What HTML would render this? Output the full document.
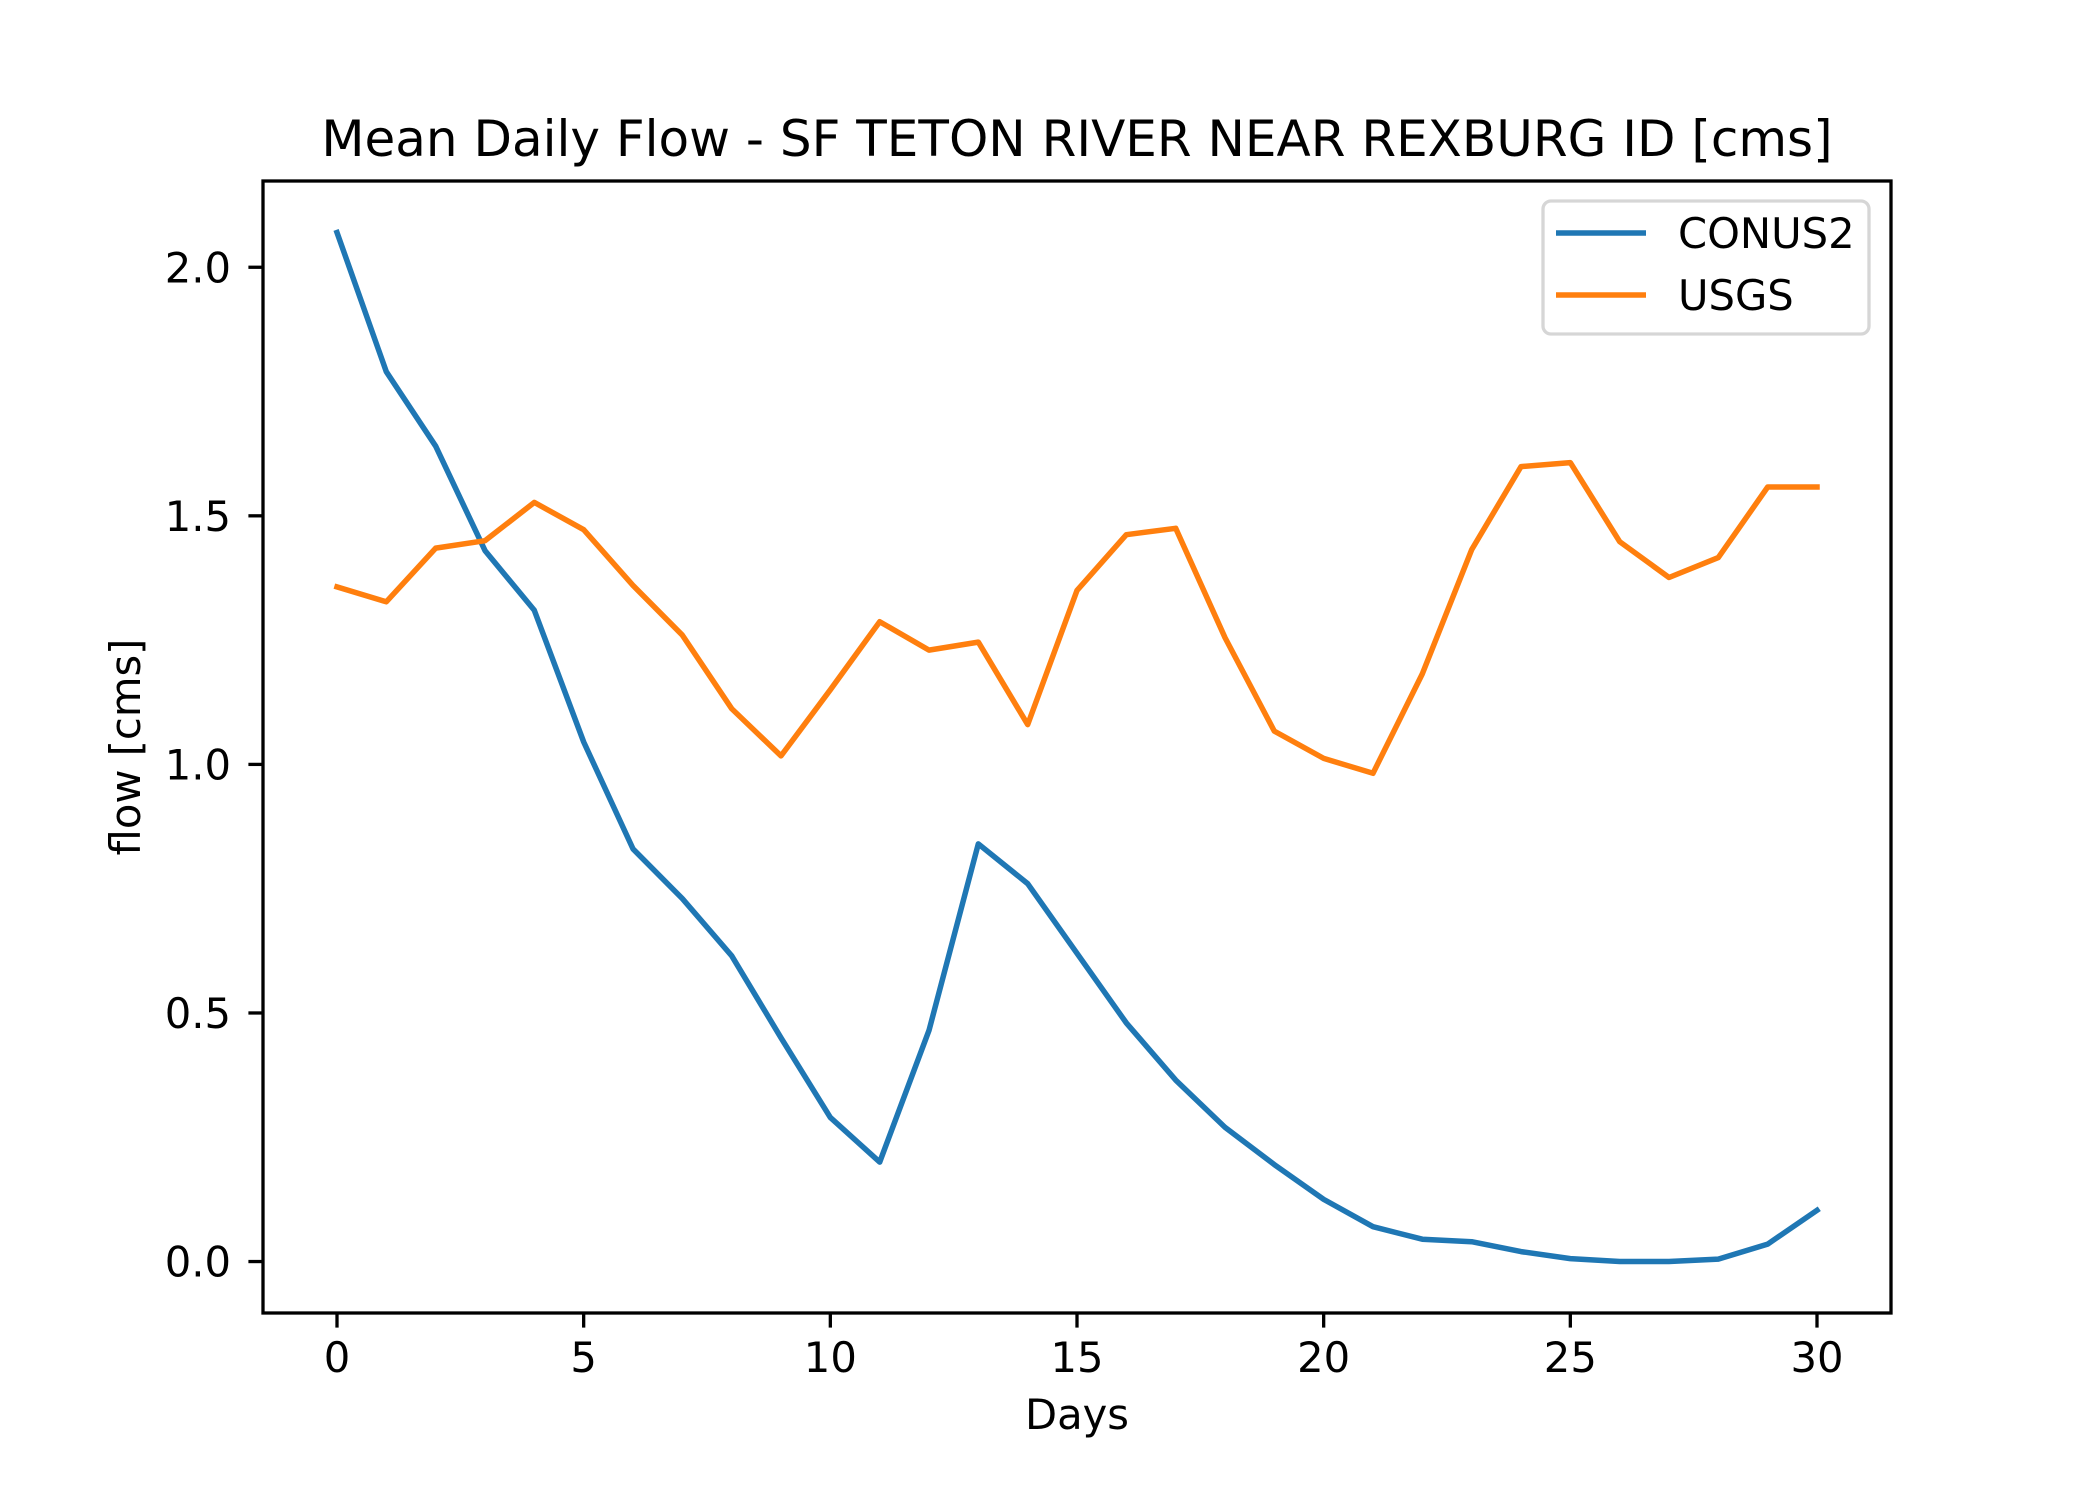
<!DOCTYPE html>
<html><head><meta charset="utf-8"><style>
html,body{margin:0;padding:0;background:#fff;}
svg text{font-family:"DejaVu Sans","Liberation Sans",sans-serif;fill:#000;}
</style></head><body>
<svg id="chart" width="2100" height="1500" viewBox="0 0 2100 1500" xmlns="http://www.w3.org/2000/svg">
<rect width="2100" height="1500" fill="#fff"/>
<text x="1077" y="156" font-size="50" text-anchor="middle">Mean Daily Flow - SF TETON RIVER NEAR REXBURG ID [cms]</text>
<g id="plot"></g>
<text x="1077" y="1429" font-size="41.7" text-anchor="middle">Days</text>
<text transform="translate(140,747) rotate(-90)" font-size="41.7" text-anchor="middle">flow [cms]</text>
</svg>
<script>
const days = [0,1,2,3,4,5,6,7,8,9,10,11,12,13,14,15,16,17,18,19,20,21,22,23,24,25,26,27,28,29,30];
const conus2 = [2.07,1.79,1.64,1.43,1.31,1.045,0.83,0.73,0.615,0.45,0.29,0.20,0.465,0.84,0.76,0.62,0.48,0.365,0.27,0.195,0.125,0.07,0.045,0.04,0.02,0.006,0.0,0.0,0.005,0.035,0.103];
const usgs = [1.357,1.327,1.435,1.45,1.527,1.472,1.36,1.26,1.112,1.017,1.15,1.287,1.23,1.246,1.08,1.35,1.462,1.475,1.255,1.067,1.012,0.982,1.182,1.432,1.599,1.607,1.448,1.376,1.416,1.558,1.558];
const xTicks = [0,5,10,15,20,25,30];
const yTicks = [0.0,0.5,1.0,1.5,2.0];
const yTickLabels = ["0.0","0.5","1.0","1.5","2.0"];

const L=263,R=1891,T=181,B=1313;
const xMin=-1.5,xMax=31.5,yMin=-0.1035,yMax=2.1735;
const sx=v=>L+(v-xMin)/(xMax-xMin)*(R-L);
const sy=v=>B-(v-yMin)/(yMax-yMin)*(B-T);
const NS='http://www.w3.org/2000/svg';
const svg=document.getElementById('chart');
const g=document.getElementById('plot');
function mk(tag,attrs,parent){const e=document.createElementNS(NS,tag);for(const k in attrs)e.setAttribute(k,attrs[k]);(parent||svg).appendChild(e);return e;}

function series(vals,color,name){
  const d=vals.map((v,i)=>(i?'L':'M')+sx(days[i]).toFixed(1)+','+sy(v).toFixed(1)).join(' ');
  const p=mk('path',{d:d,fill:'none',stroke:color,'stroke-width':5.5,'stroke-linejoin':'round','stroke-linecap':'square'},g);
  
  
}
series(conus2,'#1f77b4','conus2-line');
series(usgs,'#ff7f0e','usgs-line');

const frame=mk('rect',{x:L,y:T,width:R-L,height:B-T,fill:'none',stroke:'#000','stroke-width':3.3});



xTicks.forEach(t=>{
  const x=sx(t);
  const tk=mk('line',{x1:x,x2:x,y1:B,y2:B+14.6,stroke:'#000','stroke-width':3.3});
  
  
  const tx=mk('text',{x:x,y:1372,'font-size':41.7,'text-anchor':'middle'});
  tx.textContent=String(t);
  
  
});
yTicks.forEach((t,i)=>{
  const y=sy(t);
  const tk=mk('line',{x1:L-14.6,x2:L,y1:y,y2:y,stroke:'#000','stroke-width':3.3});
  
  
  const tx=mk('text',{x:231,y:y+15,'font-size':41.7,'text-anchor':'end'});
  tx.textContent=yTickLabels[i];
  
  
});

const lg=mk('g',{});


mk('rect',{x:1543,y:201,width:326,height:133,rx:8,fill:'#fff','fill-opacity':0.8,stroke:'#d6d6d6','stroke-width':3.3},lg);
[['CONUS2','#1f77b4',233],['USGS','#ff7f0e',295]].forEach(([n,c,y])=>{
  const e=mk('g',{},lg);
  
  
  mk('line',{x1:1556,x2:1646,y1:y,y2:y,stroke:c,'stroke-width':5.5},e);
  const t=mk('text',{x:1678,y:y+15,'font-size':41.7},e);
  t.textContent=n;
});
</script>
</body></html>
